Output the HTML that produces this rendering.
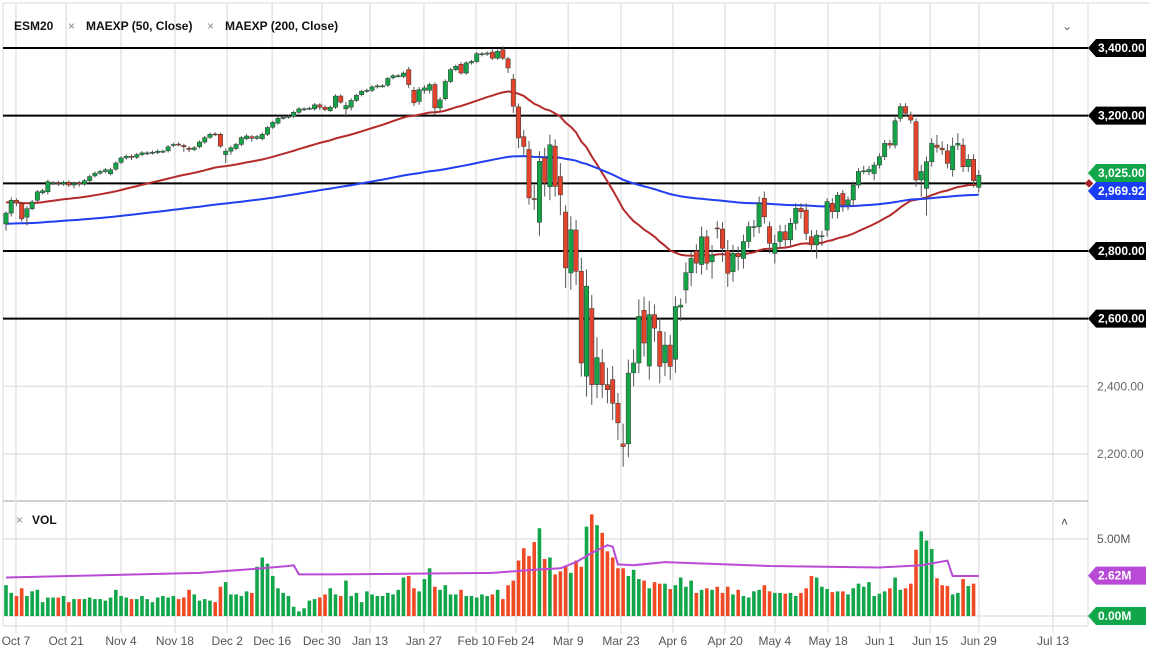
<!DOCTYPE html>
<html><head><meta charset="utf-8"><style>
html,body{margin:0;padding:0;background:#fff;}
svg{display:block;font-family:"Liberation Sans",sans-serif;}
</style></head><body>
<svg id="chart" width="1152" height="657" viewBox="0 0 1152 657">
<rect x="0" y="0" width="1152" height="657" fill="#fff"/>
<line x1="3" y1="3" x2="1150" y2="3" stroke="#d8d8d8" stroke-width="1"/>
<line x1="3" y1="3" x2="3" y2="626" stroke="#d8d8d8"/>
<line x1="1088" y1="3" x2="1088" y2="626" stroke="#d8d8d8"/>
<line x1="3" y1="501" x2="1088" y2="501" stroke="#d0d0d0" stroke-width="2"/>
<line x1="3" y1="626" x2="1088" y2="626" stroke="#d8d8d8"/>
<g id="grid"></g>
<g id="hlines"></g>
<g id="ma"></g>
<g id="candles"></g>
<g id="vol"></g>
<g id="axis"></g>
<g font-size="12" font-weight="bold" fill="#111">
<text x="14" y="30">ESM20</text>
<text x="68" y="30" fill="#888" font-weight="normal">×</text>
<text x="86" y="30">MAEXP (50, Close)</text>
<text x="207" y="30" fill="#888" font-weight="normal">×</text>
<text x="225" y="30">MAEXP (200, Close)</text>
<text x="1062" y="30" fill="#666" font-weight="normal">⌄</text>
<text x="16" y="524" fill="#888" font-weight="normal">×</text>
<text x="32" y="524">VOL</text>
<text x="1061" y="526" fill="#444" font-weight="normal">˄</text>
</g>
</svg>
<script>
const openP=[2880,2912,2950,2940,2900,2925,2950,2972,2975,3000,3002,2998,3003,2995,3002,2998,3008,3022,3030,3035,3028,3042,3062,3075,3080,3077,3085,3088,3090,3091,3094,3096,3112,3116,3112,3104,3100,3108,3122,3136,3146,3145,3085,3095,3103,3115,3132,3138,3133,3132,3145,3166,3178,3193,3196,3198,3210,3219,3222,3220,3232,3225,3215,3225,3258,3220,3225,3245,3262,3272,3275,3285,3288,3290,3312,3318,3316,3336,3275,3242,3275,3275,3292,3223,3250,3301,3336,3352,3326,3356,3360,3380,3382,3388,3370,3395,3368,3308,3226,3138,3100,2955,2885,3075,2990,3110,3020,2915,2735,2862,2740,2430,2630,2405,2470,2405,2420,2350,2230,2230,2440,2469,2625,2460,2612,2562,2470,2522,2480,2634,2685,2736,2800,2760,2842,2768,2868,2865,2802,2739,2793,2778,2828,2871,2872,2956,2872,2793,2828,2857,2833,2882,2926,2921,2842,2818,2845,2862,2941,2916,2970,2936,2951,2995,3037,3034,3029,3054,3079,3118,3113,3192,3227,3202,3182,3010,2985,3064,3113,3104,3096,3040,3113,3113,3049,3071,2988];
const closeP=[2912,2950,2942,2895,2925,2945,2975,2978,3005,3002,3000,3003,2995,3000,2998,3008,3020,3030,3035,3040,3040,3060,3075,3080,3077,3085,3090,3090,3092,3095,3095,3108,3115,3115,3108,3100,3105,3122,3135,3145,3145,3110,3095,3105,3115,3135,3140,3133,3138,3145,3165,3180,3192,3195,3198,3210,3220,3220,3222,3232,3225,3218,3225,3258,3240,3230,3245,3260,3272,3275,3285,3288,3288,3310,3318,3318,3326,3292,3238,3277,3282,3292,3223,3247,3301,3336,3346,3326,3356,3360,3383,3383,3385,3370,3390,3370,3341,3228,3134,3109,2957,2952,3065,3001,3114,2991,2966,2750,2863,2740,2469,2696,2405,2485,2405,2390,2350,2292,2222,2439,2469,2607,2528,2612,2572,2459,2522,2459,2636,2640,2736,2778,2764,2842,2764,2788,2867,2808,2734,2793,2783,2828,2872,2872,2941,2901,2823,2823,2857,2833,2882,2926,2916,2852,2818,2847,2845,2946,2916,2965,2936,2951,2995,3035,3037,3041,3054,3079,3118,3113,3185,3227,3207,3187,3010,3035,3064,3118,3106,3099,3059,3110,3118,3049,3071,3008,3024];
const wickUp=[5,8,6,5,8,6,5,6,6,5,6,5,6,5,5,5,6,5,5,5,6,5,5,5,5,5,5,5,5,5,5,5,5,5,5,6,5,5,5,5,5,5,8,6,5,5,5,5,5,5,5,5,5,5,5,5,5,5,5,5,5,5,5,5,5,10,6,5,5,5,5,5,5,5,5,5,5,8,10,8,8,6,6,8,6,5,5,6,5,5,5,5,5,8,6,10,6,15,10,20,25,40,30,30,30,20,40,20,40,30,40,50,40,60,40,50,40,30,60,40,40,50,40,40,30,40,40,30,30,20,30,20,20,30,20,30,20,20,30,25,20,20,15,20,20,20,15,25,20,20,15,15,15,20,20,15,15,10,15,10,10,10,10,10,15,10,10,10,10,10,10,10,10,10,10,20,15,15,30,20,20,25,30,20,15,15,15];
const wickDn=[20,10,10,8,25,5,5,5,8,5,8,5,6,10,8,5,5,5,5,5,5,5,5,5,8,5,5,5,5,5,5,5,5,5,15,8,5,5,5,5,5,5,25,10,5,5,5,10,5,5,5,5,5,5,5,5,5,5,5,5,8,5,5,5,5,25,10,5,5,5,5,5,5,5,5,5,5,10,10,10,10,10,20,10,5,5,5,5,5,5,5,5,5,5,5,5,15,20,30,25,20,30,40,40,40,30,60,60,50,40,40,60,60,40,40,40,50,50,60,40,40,30,40,40,40,50,40,40,40,40,40,40,30,30,20,50,30,40,40,30,40,30,20,30,20,20,30,30,20,20,20,20,20,20,20,40,30,20,20,20,20,15,20,10,10,10,20,10,10,10,10,10,10,10,20,50,80,15,15,15,15,20,15,15,15,20,15];
const volume=[2.0,1.5,1.3,1.8,1.3,1.6,1.7,0.9,1.2,1.2,1.2,1.3,0.9,1.1,1.1,1.1,1.2,1.1,1.1,1.0,1.2,1.7,1.3,1.2,1.1,1.1,1.3,1.1,0.9,1.2,1.3,1.2,1.3,1.1,1.2,1.7,1.4,1.0,1.1,1.0,0.9,1.9,2.2,1.4,1.4,1.3,1.6,1.5,3.2,3.8,3.4,2.6,1.8,1.5,1.3,0.6,0.3,0.5,1.0,1.1,1.2,1.4,1.8,1.4,1.3,2.3,1.3,1.5,0.9,1.6,1.4,1.3,1.3,1.5,1.4,1.7,2.5,2.6,1.8,1.6,2.4,3.1,1.9,1.7,2.0,1.4,1.4,1.7,1.3,1.3,1.2,1.4,1.3,1.4,1.7,1.1,2.0,2.3,3.6,4.4,3.9,4.8,5.7,3.7,3.8,2.7,2.9,3.2,2.8,3.6,3.2,5.8,6.6,5.9,5.4,4.2,3.8,3.1,3.1,2.6,3.0,2.4,2.3,1.8,2.2,2.1,2.1,1.75,2.0,2.5,1.9,2.3,1.5,1.7,1.8,1.7,1.9,1.5,1.9,1.4,1.7,1.3,1.2,1.6,1.7,2.0,1.6,1.5,1.5,1.45,1.5,1.3,1.5,1.8,2.6,2.5,1.9,1.75,1.55,1.6,1.6,1.4,1.8,2.1,1.9,2.2,1.3,1.45,1.6,1.8,2.5,1.7,1.8,2.1,4.3,5.5,4.9,4.35,2.45,2.0,1.95,1.4,1.5,2.4,1.95,2.1];
const volAvgIdx=[0,37,49,54,55,56,63,93,101,106,109,112,115,116,117,120,126,146,167,175,180,181,186];
const volAvgVal=[2.5,2.8,3.1,3.25,3.3,2.7,2.7,2.8,3.0,3.1,3.5,4.1,4.6,4.5,3.35,3.3,3.5,3.25,3.15,3.3,3.6,2.6,2.6];
const tickLabels=["Oct 7","Oct 21","Nov 4","Nov 18","Dec 2","Dec 16","Dec 30","Jan 13","Jan 27","Feb 10","Feb 24","Mar 9","Mar 23","Apr 6","Apr 20","May 4","May 18","Jun 1","Jun 15","Jun 29","Jul 13"];
const tickIdx=[1.9,11.5,22,32.3,42.3,50.9,60.4,69.6,79.9,89.9,97.5,107.5,117.6,127.5,137.5,147,157.2,167.1,176.7,186,200.2];
const levelLines=[3400,3200,3000,2800,2600];
const priceGrid=[2400,2200];
const ema50Seed=2945, ema200Seed=2880;

const NS="http://www.w3.org/2000/svg";
const xS=i=>6+i*5.23;
const yP=p=>48+(3400-p)*0.33833;
const yV=v=>616-v*15.4;
function mk(tag,attrs,parent){const e=document.createElementNS(NS,tag);for(const k in attrs)e.setAttribute(k,attrs[k]);parent.appendChild(e);return e;}
const G=id=>document.getElementById(id);

tickLabels.forEach((t,k)=>{
  const x=xS(tickIdx[k]);
  const l=mk('line',{x1:x,y1:3,x2:x,y2:633,stroke:'#e4e4e4','stroke-width':1.5},G('grid'));
  
  
  const tx=mk('text',{x:x,y:645,'text-anchor':'middle','font-size':12,fill:'#555'},G('axis'));
  tx.textContent=t;
  
  
});
priceGrid.forEach(p=>{
  const l=mk('line',{x1:3,y1:yP(p),x2:1088,y2:yP(p),stroke:'#e4e4e4','stroke-width':1.5},G('grid'));
  
  
  const tx=mk('text',{x:1097,y:yP(p)+4,'font-size':12,fill:'#666'},G('axis'));
  tx.textContent=p.toLocaleString('en-US',{minimumFractionDigits:2});
  
  
});
[5,0].forEach(v=>{
  const l=mk('line',{x1:3,y1:yV(v),x2:1088,y2:yV(v),stroke:'#e4e4e4','stroke-width':1.5},G('grid'));
  
  
});
const vt=mk('text',{x:1097,y:yV(5)+4,'font-size':12,fill:'#555'},G('axis'));
vt.textContent='5.00M';



function tag(y,txt,bg,name){
  const g=mk('g',{},G('axis'));
  
  
  mk('path',{d:`M1088 ${y} L1096 ${y-9} L1146 ${y-9} L1146 ${y+9} L1096 ${y+9} Z`,fill:bg},g);
  const t=mk('text',{x:1098,y:y+4,'font-size':12,'font-weight':'bold',fill:'#fff'},g);
  t.textContent=txt;
}
levelLines.forEach(p=>{
  const l=mk('line',{x1:3,y1:yP(p),x2:1088,y2:yP(p),stroke:'#000','stroke-width':2},G('hlines'));
  
  
  if(p!==3000) tag(yP(p),p.toLocaleString('en-US',{minimumFractionDigits:2}),'#000','level-tag');
});

function ema(period,seed){let e=seed;const a=2/(period+1);return closeP.map(c=>(e=e+a*(c-e)));}
const e50=ema(50,ema50Seed), e200=ema(200,ema200Seed);
[[e50,'#b52a2a','ema50-line'],[e200,'#1f3ff0','ema200-line']].forEach(([arr,col,nm])=>{
  const p=mk('path',{d:arr.map((v,i)=>(i?'L':'M')+xS(i).toFixed(1)+' '+yP(v).toFixed(1)).join(''),fill:'none',stroke:col,'stroke-width':2},G('ma'));
  
  
});

closeP.forEach((c,i)=>{
  const o=openP[i], up=c>=o, x=xS(i);
  const hi=Math.max(o,c)+wickUp[i], lo=Math.min(o,c)-wickDn[i];
  const g=mk('g',{},G('candles'));
  
  
  mk('line',{x1:x,y1:yP(hi),x2:x,y2:yP(lo),stroke:'#555','stroke-width':1},g);
  const top=yP(Math.max(o,c)), h=Math.max(1,yP(Math.min(o,c))-top);
  mk('rect',{x:x-2.2,y:top,width:4.4,height:h,fill:up?'#14a447':'#e2432a',stroke:'#333','stroke-width':0.5},g);
});

volume.forEach((v,i)=>{
  const up=closeP[i]>=openP[i];
  const r=mk('rect',{x:xS(i)-1.8,y:yV(v),width:3.6,height:yV(0)-yV(v),fill:up?'#12a64a':'#f04a24'},G('vol'));
  
  
});
const va=mk('path',{d:volAvgIdx.map((k,j)=>(j?'L':'M')+xS(k).toFixed(1)+' '+yV(volAvgVal[j]).toFixed(1)).join(''),fill:'none',stroke:'#b84ad6','stroke-width':2},G('vol'));



tag(173,'3,025.00','#12a64a','last-price-tag');
tag(191,'2,969.92','#1a3cf5','ema200-value-tag');
const dm=mk('rect',{x:1086,y:yP(3000)-3,width:6,height:6,fill:'#a52020',transform:`rotate(45 1089 ${yP(3000)})`},G('axis'));


tag(yV(2.62),'2.62M','#b84ad6','volume-average-tag');
tag(yV(0),'0.00M','#12a64a','volume-zero-tag');
</script>
</body></html>
